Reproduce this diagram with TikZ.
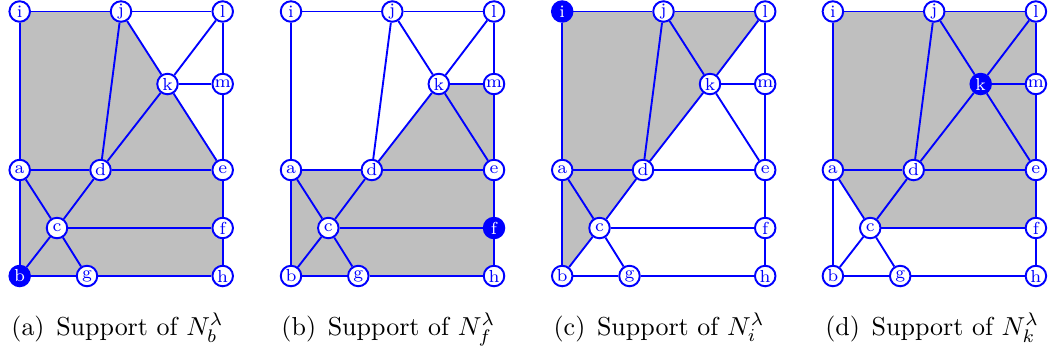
\documentclass[tikz,border=0pt]{standalone}
\tikzset{
  x=0.385pt, y=-0.385pt,
  vtx/.style={circle,draw=blue,fill=white,text=blue,line width=0.75pt,inner sep=0pt,minimum size=7.9pt,font=\fontsize{6.7}{8}\selectfont},
  hotvtx/.style={fill=blue,text=white},
  meshedge/.style={draw=blue,line width=0.72pt},
  region/.style={fill=black!25,draw=none},
  captext/.style={anchor=base,inner sep=0pt}
}
\newcommand{\panel}[6]{%
 \begin{scope}[shift={(#1,0)},name prefix=#2-,vtx-#4/.style={hotvtx}]
  \coordinate (pi) at (19.7,11.5); \coordinate (pj) at (121,11.5); \coordinate (pl) at (222.7,11.5);
  \coordinate (pk) at (167.5,84); \coordinate (pm) at (222.7,84);
  \coordinate (pa) at (19.7,170); \coordinate (pd) at (100.5,170); \coordinate (pe) at (222.7,170);
  \coordinate (pc) at (57,228); \coordinate (pf) at (222.7,228);
  \coordinate (pb) at (19.7,276); \coordinate (pg) at (87,276); \coordinate (ph) at (222.7,276);
  \fill[region] #3 -- cycle;
  \foreach \n in {a,b,c,d,e,f,g,h,i,j,k,l,m}
    \node[vtx,vtx-\n/.try] (\n) at (p\n) {\n};
  \foreach \s/\t in {i/j,j/l,l/m,m/e,e/f,f/h,h/g,g/b,b/a,a/i,j/d,j/k,k/l,k/m,k/d,k/e,a/d,d/e,a/c,d/c,b/c,g/c,c/f}
    \draw[meshedge] (\s) -- (\t);
  \node[captext] (caption) at (#5,335) {#6};
 \end{scope}}
\begin{document}
\begin{tikzpicture}
\useasboundingbox (0,0) rectangle (1052,354);
\panel{0}{A}{(pi) -- (pj) -- (pk) -- (pe) -- (ph) -- (pb)}{b}{117.5}{(a)\hspace{0.45em}Support of $N_b^\lambda$}
\panel{271.3}{B}{(pa) -- (pd) -- (pk) -- (pm) -- (ph) -- (pb)}{f}{117}{(b)\hspace{0.45em}Support of $N_f^\lambda$}
\panel{542.5}{C}{(pi) -- (pl) -- (pk) -- (pd) -- (pc) -- (pb)}{i}{116.5}{(c)\hspace{0.45em}Support of $N_i^\lambda$}
\panel{813.2}{D}{(pi) -- (pl) -- (pf) -- (pc) -- (pa)}{k}{119}{(d)\hspace{0.45em}Support of $N_k^\lambda$}
\end{tikzpicture}
\end{document}
